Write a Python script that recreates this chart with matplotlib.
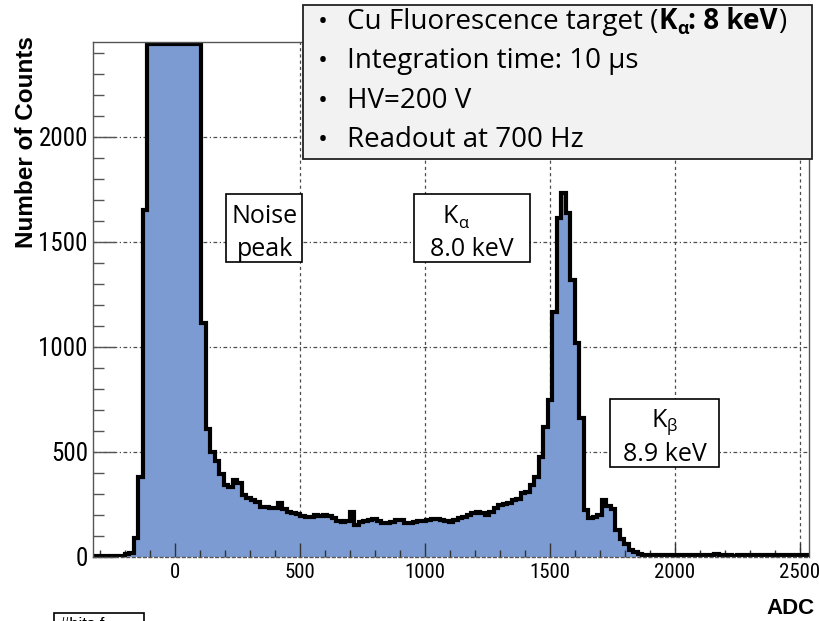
import matplotlib
matplotlib.use("Agg")
import matplotlib.pyplot as plt
import numpy as np
from matplotlib.patches import Rectangle
from matplotlib.ticker import MultipleLocator

# ---------------- data ----------------
BIN_START = -327          # ADC, lower edge of first bin
BIN_WIDTH = 18            # ADC per bin
counts_left = [4, 5, 3, 5, 4, 6, 5, 12, 18, 90, 380, 1650]
counts_noise_top = [2900, 3800, 4600, 5200, 5600, 5800, 5700, 5400, 4900, 4200, 3400, 2700]
counts_plateau = [1115, 610, 500, 455, 395, 345, 335, 365, 350, 295,
                  280, 270, 260, 236, 236, 232, 232, 256, 230, 213,
                  210, 205, 195, 189, 192, 198, 196, 198, 194, 186,
                  172, 165, 170, 213, 152, 165, 172, 178, 182, 170,
                  162, 160, 168, 178, 175, 162, 160, 165, 170, 172,
                  176, 180, 180, 178, 170, 165, 175, 185, 192, 198,
                  208, 215, 210, 200, 215, 235, 246, 250, 258, 270,
                  275, 303, 310, 341, 380, 475]
counts_peaks = [618, 746, 1165, 1612, 1731, 1636, 1317, 1017, 660, 222,
                184, 190, 198, 270, 245, 230, 127, 85, 60, 35, 22, 15]
counts_tail = [10, 9, 8, 11, 9, 8, 10, 7, 9, 10, 8, 11, 9, 10, 8, 9, 12, 8, 9,
               10, 6, 9, 11, 8, 10, 9, 8, 10, 11, 9, 8, 10, 9, 11, 10, 9, 8]

xtick_values = [0, 500, 1000, 1500, 2000, 2500]
xtick_labels = ["0", "500", "1000", "1500", "2000", "2500"]
ytick_values = [0, 500, 1000, 1500, 2000]
ytick_labels = ["0", "500", "1000", "1500", "2000"]
XLIM = (-328, 2536)
YLIM = (0, 2452)

info_lines = ["Integration time: 10 µs", "HV=200 V", "Readout at 700 Hz"]

counts = np.array(counts_left + counts_noise_top + counts_plateau + counts_peaks + counts_tail, float)
edges = BIN_START + BIN_WIDTH * np.arange(len(counts) + 1)

# ---------------- figure ----------------
W, H = 820, 621
fig = plt.figure(figsize=(W / 100, H / 100), dpi=100)
fig.patch.set_facecolor("white")
renderer = fig.canvas.get_renderer()

def fx(px):
    return px / W

def fy(py):
    return 1 - py / H

ax = fig.add_axes([fx(93), fy(557), 716 / W, 515 / H])
ax.set_xlim(*XLIM)
ax.set_ylim(*YLIM)

# grid (below the histogram)
for xv in xtick_values:
    ax.axvline(xv, color="0.3", lw=0.9, ls=(0, (2.5, 2.5)), zorder=0.5)
for yv in ytick_values[1:]:
    ax.axhline(yv, color="0.3", lw=0.9, ls=(0, (3, 2, 1, 2)), zorder=0.5)

# histogram, clipped at the frame top like ROOT does
disp = np.minimum(counts, YLIM[1] - 9)
ax.stairs(disp, edges, fill=True, color="#7b9bd2", lw=0, zorder=1)
ax.stairs(disp, edges, color="black", lw=3.0, baseline=None, zorder=2)

# axes styling
for s in ["top", "right", "left", "bottom"]:
    ax.spines[s].set_color("#555555")
    ax.spines[s].set_linewidth(1.0)
ax.spines["bottom"].set_linestyle((0, (2, 2)))

TICKFAM = ["Roboto Condensed", "Liberation Sans"]
ax.set_xticks(xtick_values)
ax.set_xticklabels(xtick_labels, fontfamily=TICKFAM, fontsize=15)
ax.set_yticks(ytick_values)
ax.set_yticklabels(ytick_labels, fontfamily=TICKFAM, fontsize=18)
ax.xaxis.set_minor_locator(MultipleLocator(100))
ax.yaxis.set_minor_locator(MultipleLocator(100))
ax.tick_params(axis="x", which="major", direction="in", length=10, width=1, color="#333333", pad=4.3, top=False)
ax.tick_params(axis="x", which="minor", direction="in", length=5, width=1, color="#333333", top=False)
ax.tick_params(axis="y", which="major", direction="in", length=16, width=1, color="#555555", pad=3.6, right=False)
ax.tick_params(axis="y", which="minor", direction="in", length=8, width=1, color="#555555", right=False)

# axis titles
fig.text(fx(27), fy(142), "Number of Counts", rotation=90, ha="center", va="center",
         fontsize=17.5, fontweight="bold", family="Liberation Sans")
fig.text(fx(815), fy(609), "ADC", ha="right", va="center", fontsize=16,
         fontweight="bold", family="Liberation Sans")

FAM = ["Open Sans", "Noto Sans", "DejaVu Sans"]

# info box
fig.add_artist(Rectangle((fx(303), fy(159)), (812 - 303) / W, (159 - 5) / H,
                         transform=fig.transFigure, facecolor="#f2f2f2",
                         edgecolor="#222222", lw=1.3, zorder=5))
bases = [29, 68, 108, 147]
FS = 20

def text_after(prev, s, y_px, **kw):
    bb = prev.get_window_extent(renderer)
    return fig.text(bb.x1 / W, fy(y_px), s, va="baseline", ha="left", zorder=6, **kw)

for b in bases:
    fig.text(fx(318), fy(b), "•", fontsize=FS - 1, family=FAM, va="baseline", ha="left", zorder=6)
t1 = fig.text(fx(347), fy(bases[0]), "Cu Fluorescence target (", fontsize=FS, family=FAM,
              va="baseline", ha="left", zorder=6)
tK = text_after(t1, "K", bases[0], fontsize=FS, family=FAM, fontweight="bold")
tA = text_after(tK, "α", bases[0] + 5, fontsize=13, family=FAM, fontweight="bold")
tR = text_after(tA, ": 8 keV", bases[0], fontsize=FS, family=FAM, fontweight="bold")
text_after(tR, ")", bases[0], fontsize=FS, family=FAM)
for b, line in zip(bases[1:], info_lines):
    fig.text(fx(347), fy(b), line, fontsize=FS, family=FAM, va="baseline", ha="left", zorder=6)

# annotation boxes
def box(x0, y0, x1, y1):
    fig.add_artist(Rectangle((fx(x0), fy(y1)), (x1 - x0) / W, (y1 - y0) / H,
                             transform=fig.transFigure, facecolor="white",
                             edgecolor="black", lw=1.2, zorder=5))

AFS = 18
SFS = 12
box(226, 194, 302, 262)
fig.text(fx(265), fy(223), "Noise", ha="center", va="baseline", fontsize=AFS, family=FAM, zorder=6)
fig.text(fx(265), fy(256), "peak", ha="center", va="baseline", fontsize=AFS, family=FAM, zorder=6)

box(414, 194, 530, 262)
fig.text(fx(458), fy(223), "K", ha="right", va="baseline", fontsize=AFS, family=FAM, zorder=6)
fig.text(fx(458), fy(228), "α", ha="left", va="baseline", fontsize=SFS, family=FAM, zorder=6)
fig.text(fx(472), fy(256), "8.0 keV", ha="center", va="baseline", fontsize=AFS, family=FAM, zorder=6)

box(610, 399, 719, 467)
fig.text(fx(667), fy(427), "K", ha="right", va="baseline", fontsize=AFS, family=FAM, zorder=6)
fig.text(fx(667), fy(431), "β", ha="left", va="baseline", fontsize=SFS, family=FAM, zorder=6)
fig.text(fx(665), fy(461), "8.9 keV", ha="center", va="baseline", fontsize=AFS, family=FAM, zorder=6)

# remnant of a stats box at the bottom-left edge
box(54, 613, 144, 630)
fig.text(fx(60), fy(617), "#hits f", ha="left", va="top", fontsize=12,
         family="Liberation Sans", zorder=6)

fig.savefig("out.png", dpi=100)
